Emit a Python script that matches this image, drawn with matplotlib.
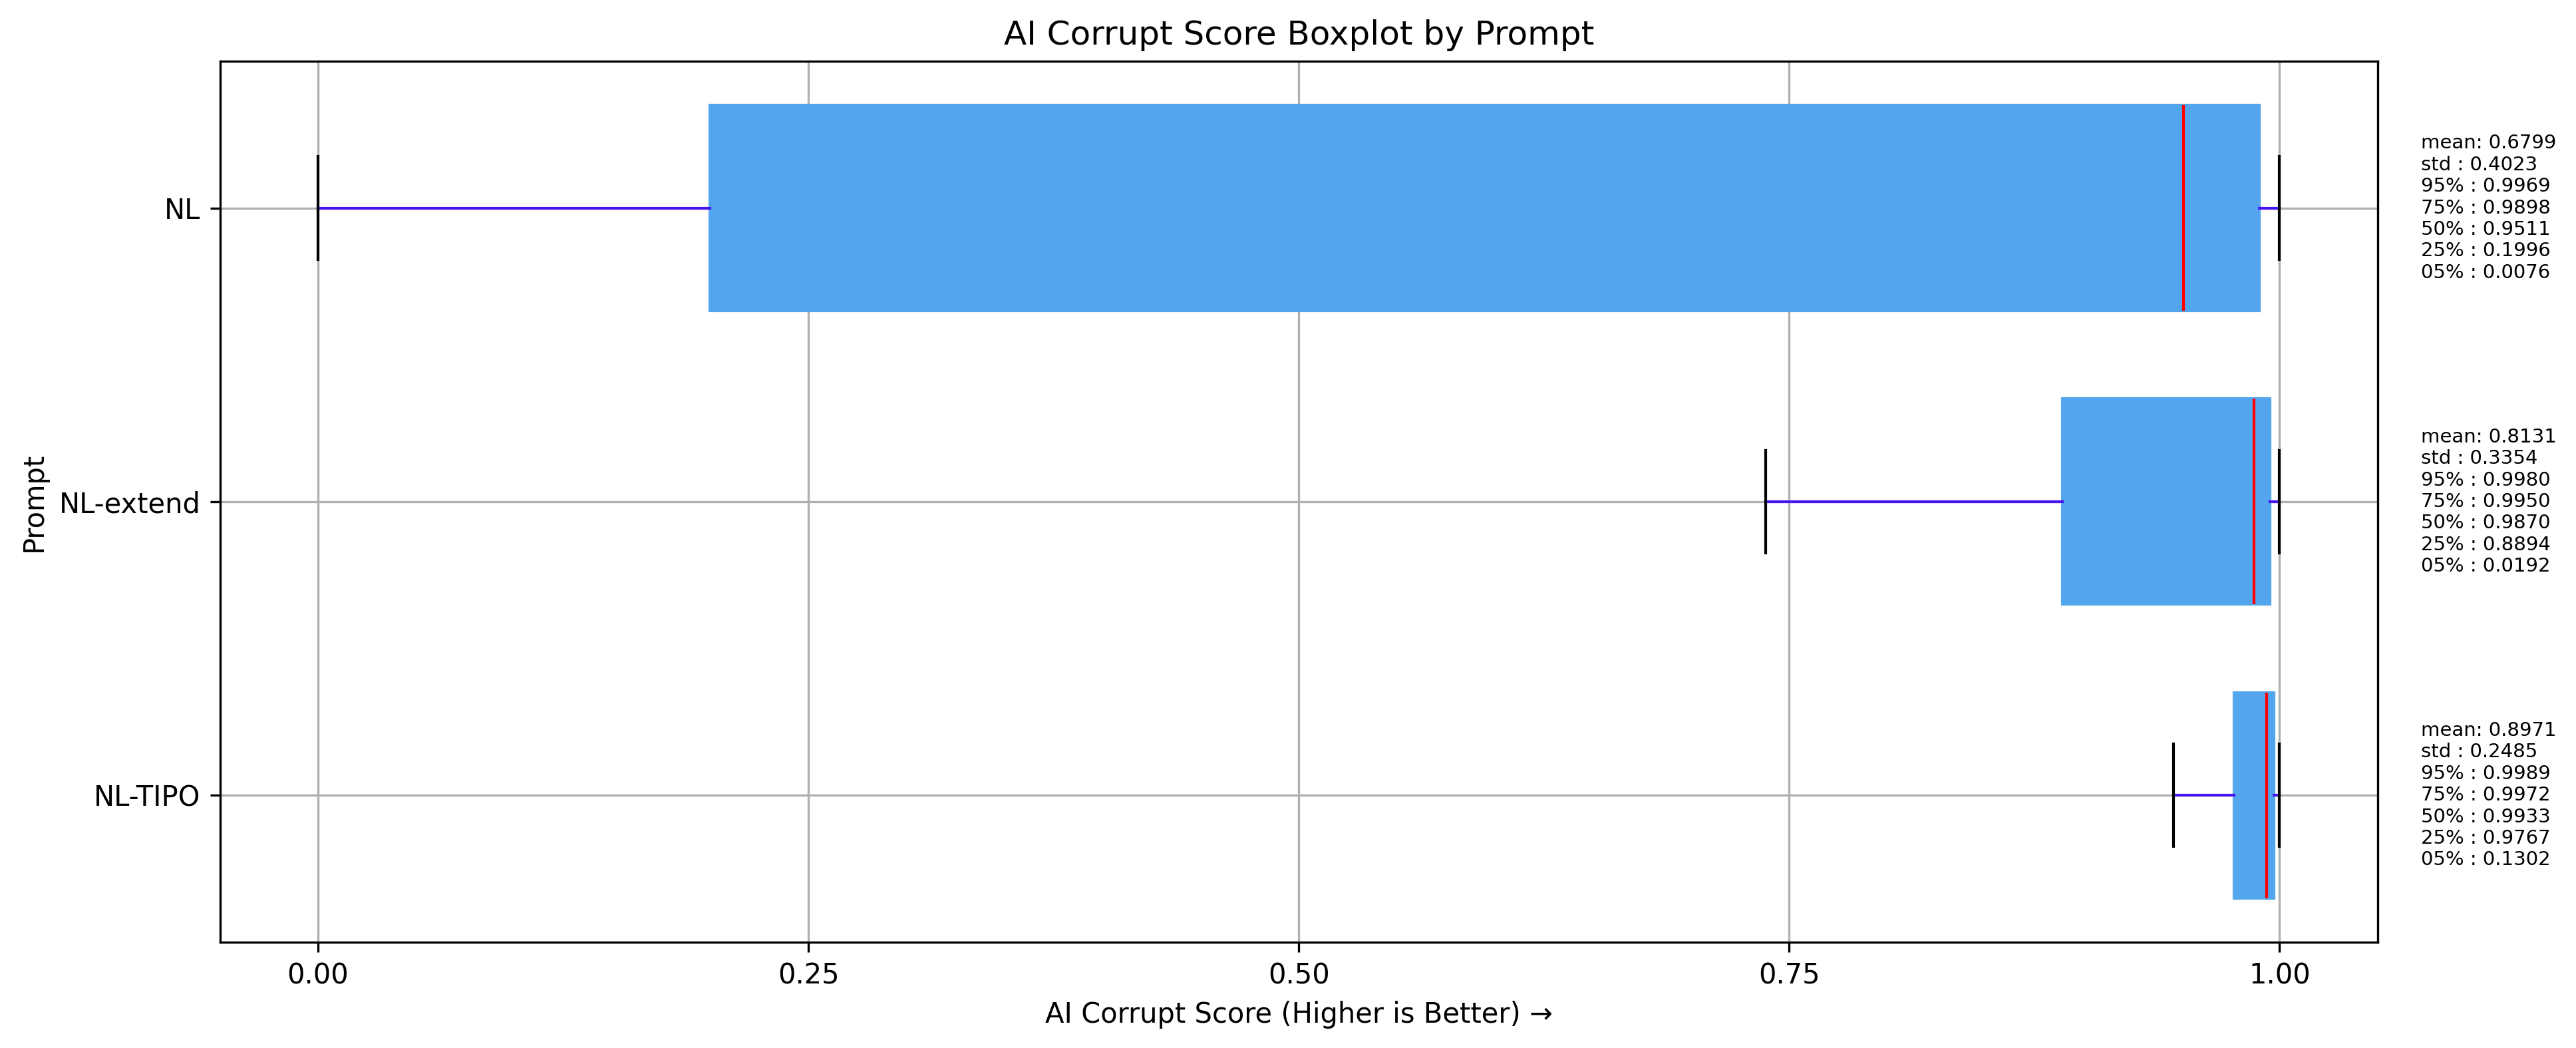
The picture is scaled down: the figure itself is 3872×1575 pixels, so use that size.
import matplotlib
matplotlib.use("Agg")
import matplotlib.pyplot as plt

# per-prompt stats (bottom to top)
prompts = ['NL-TIPO', 'NL-extend', 'NL']
q1 = [0.9767, 0.8894, 0.1996]
med = [0.9933, 0.9870, 0.9511]
q3 = [0.9972, 0.9950, 0.9898]
whislo = [0.9460, 0.7380, 0.0000]
whishi = [1.0000, 1.0000, 1.0000]
means = [0.8971, 0.8131, 0.6799]
stds = [0.2485, 0.3354, 0.4023]
p95 = [0.9989, 0.9980, 0.9969]
p05 = [0.1302, 0.0192, 0.0076]

stats = []
for i in range(len(prompts)):
    stats.append(dict(label=prompts[i], q1=q1[i], med=med[i], q3=q3[i],
                      whislo=whislo[i], whishi=whishi[i], fliers=[]))

fig = plt.figure(figsize=(3872/300, 1575/300), dpi=300)
ax = fig.add_axes([0.0854, 0.1010, 0.9230 - 0.0854, 0.9416 - 0.1010])
ax.set_axisbelow(True)
ax.grid(True, color='#b0b0b0', linewidth=0.8)

box_col = '#53a5ed'
ax.bxp(stats, vert=False, widths=0.7, patch_artist=True, showfliers=False,
       boxprops=dict(facecolor=box_col, edgecolor=box_col, linewidth=1),
       whiskerprops=dict(color='#4514ee', linewidth=1),
       capprops=dict(color='black', linewidth=1),
       medianprops=dict(color='red', linewidth=1))

ax.set_xlim(-0.05, 1.05)
ax.set_ylim(0.5, 3.5)
ax.set_xticks([0.0, 0.25, 0.5, 0.75, 1.0])
ax.set_xticklabels(['0.00', '0.25', '0.50', '0.75', '1.00'])

for i in range(len(prompts)):
    txt = (f"mean: {means[i]:.4f}\nstd : {stds[i]:.4f}\n95% : {p95[i]:.4f}\n"
           f"75% : {q3[i]:.4f}\n50% : {med[i]:.4f}\n25% : {q1[i]:.4f}\n05% : {p05[i]:.4f}")
    ax.text(1.072, i + 1, txt, fontsize=7, va='center', ha='left', clip_on=False)

ax.set_title('AI Corrupt Score Boxplot by Prompt', fontsize=12)
ax.set_xlabel('AI Corrupt Score (Higher is Better) →')
ax.set_ylabel('Prompt')
ax.tick_params(axis='y', labelsize=10)

fig.savefig('out.png', dpi=300)
